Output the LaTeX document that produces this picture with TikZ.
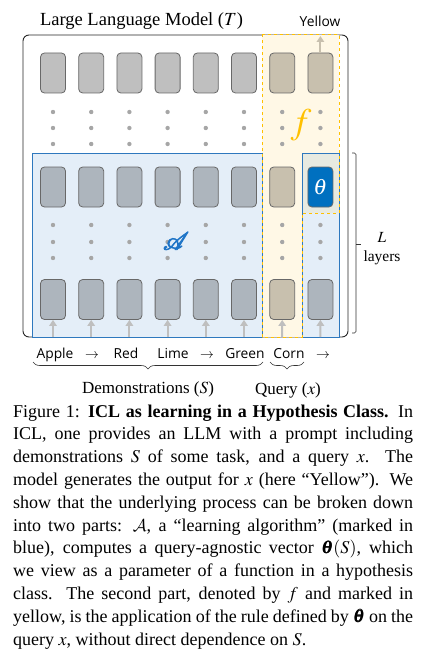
\documentclass[tikz,border=0pt]{standalone}
\usepackage{mathptmx}
\usepackage{mathrsfs}
\usepackage{bm}
\usepackage{fontspec}
\setmainfont{Liberation Serif}
\newfontfamily\wordfont{Open Sans}
\DeclareMathAlphabet{\mathcmcal}{OMS}{cmsy}{m}{n}
\usetikzlibrary{arrows, arrows.meta}
\usetikzlibrary{decorations.pathreplacing}

\definecolor{tokgrey}{HTML}{BFBFBF}
\definecolor{tokblue}{HTML}{ADB5BD}
\definecolor{toktan}{HTML}{C8C0AE}
\definecolor{tokline}{HTML}{686868}
\definecolor{algfill}{HTML}{E4EEF8}
\definecolor{algline}{HTML}{2E78BE}
\definecolor{hypfill}{HTML}{FFF8E6}
\definecolor{hypline}{HTML}{FFC000}
\definecolor{mixfill}{HTML}{E7EAE1}
\definecolor{thetablue}{HTML}{0070C0}
\definecolor{dotgrey}{HTML}{A6A6A6}
\definecolor{feedgrey}{HTML}{BFBFBF}
\definecolor{scriptblue}{HTML}{2075C7}

\newcommand{\heavyglyph}[1]{\special{pdf:code 2 Tr 0.9 w}#1\special{pdf:code 0 Tr}}

\begin{document}
\begin{tikzpicture}[x=1pt, y=-1pt,
    token/.style={draw=tokline, line width=0.8pt, rounded corners=4pt, minimum width=25pt, minimum height=40pt, inner sep=0pt},
    word/.style={font=\wordfont\fontsize{13.8}{16}\selectfont, inner sep=0pt, anchor=base},
    feed/.style={draw=feedgrey, line width=2pt, -{Triangle[width=7.5pt, length=6pt]}},
    brace/.style={decorate, decoration={brace, mirror, amplitude=7pt}, draw=black!80, line width=0.6pt}]

  \useasboundingbox (0,0) rectangle (425,650);

  % model frame and the two parts
  \draw[black!85, line width=0.9pt, rounded corners=6pt] (23,35) rectangle (348,337);
  \fill[algfill] (32,153) rectangle (262,337);
  \fill[algfill] (302,153) rectangle (339,337);
  \fill[hypfill] (262,35) rectangle (302,337);
  \fill[hypfill] (302,35) rectangle (339,153);
  \fill[mixfill] (302,153) rectangle (339,213);
  \draw[algline, line width=1pt] (32,153) rectangle (262,337);
  \draw[algline, line width=1pt] (302,153) rectangle (339,337);
  \draw[hypline, line width=1pt, dashed] (262,35) -- (339,35) -- (339,213) -- (302,213) -- (302,337) -- (262,337) -- cycle;

  % tokens
  \foreach \i in {1,...,6} {
    \node[token, fill=tokgrey] (t\i) at ({53+38.2*(\i-1)},73) {};
    \node[token, fill=tokblue] (m\i) at ({53+38.2*(\i-1)},187) {};
    \node[token, fill=tokblue] (b\i) at ({53+38.2*(\i-1)},299.5) {};
  }
  \node[token, fill=toktan] (t7) at (282.2,73) {};
  \node[token, fill=toktan] (t8) at (320.4,73) {};
  \node[token, fill=toktan] (m7) at (282.2,187) {};
  \node[token, fill=thetablue, text=white, font=\fontsize{22}{22}\selectfont] (m8) at (320.4,187) {$\theta$};
  \node[token, fill=toktan] (b7) at (282.2,299.5) {};
  \node[token, fill=tokblue] (b8) at (320.4,299.5) {};

  \foreach \i in {1,...,8}
    \foreach \y in {112,128,144,225,242,258}
      \fill[dotgrey] ({53+38.2*(\i-1)},\y) circle (2.2pt);

  \foreach \i in {1,...,8} {
    \coordinate (in\i) at ({53+38.2*(\i-1)},337);
    \draw[feed] (in\i) -- (b\i);
  }
  \coordinate (yout) at (320.4,36);
  \draw[feed, draw=toktan] (t8) -- (yout);

  \node[text=hypline, font=\fontsize{36}{36}\selectfont] (fsym) at (301,125) {$f$};
  \node[text=scriptblue, font=\fontsize{28}{28}\selectfont] (Asym) at (176,241) {\heavyglyph{$\mathscr{A}$}};

  % labels
  \node[anchor=base, font=\fontsize{18.5}{20}\selectfont] (title) at (141.5,26) {Large Language Model ($T$)};
  \node[word] (yellow) at (320,27) {Yellow};
  \node[word] (apple) at (55,358) {Apple};
  \node[word] (arr1) at (92,358) {$\rightarrow$};
  \node[word] (red) at (126,358) {Red};
  \node[word] (lime) at (173,358) {Lime};
  \node[word] (arr2) at (207,358) {$\rightarrow$};
  \node[word] (green) at (245,358) {Green};
  \node[word] (corn) at (289,358) {Corn};
  \node[word] (arr3) at (323,358) {$\rightarrow$};

  \coordinate (demoL) at (33,362);
  \coordinate (demoR) at (263,362);
  \draw[brace] (demoL) -- (demoR);
  \node[anchor=base, font=\fontsize{17}{19}\selectfont] (demo) at (148,393) {Demonstrations ($S$)};
  \coordinate (queryL) at (270,362);
  \coordinate (queryR) at (304,362);
  \draw[brace] (queryL) -- (queryR);
  \node[anchor=base, font=\fontsize{17}{19}\selectfont] (query) at (288,394) {Query ($x$)};

  \coordinate (layT) at (352,153);
  \coordinate (layB) at (352,333);
  \draw[black!80, line width=0.6pt, rounded corners=1.5pt] (layT) -- ++(4,0) -- ++(0,180) -- (layB);
  \draw[black!80, line width=0.6pt] (356,244) -- (361,244);
  \node[anchor=base, font=\fontsize{15.5}{17}\selectfont] (L) at (382,242) {$L$};
  \node[anchor=base, font=\fontsize{15.5}{17}\selectfont] (layers) at (382,261) {layers};

  % caption
  \node[anchor=north west, inner sep=0pt, text width=400pt, align=justify, font=\fontsize{18}{22.8}\selectfont] (caption) at (13,404.5) {\tolerance=10000\hyphenpenalty=10000
    Figure 1: \textbf{ICL as learning in a Hypothesis Class.} In\linebreak
    ICL, one provides an LLM with a prompt including\linebreak
    demonstrations $S$ of some task, and a query $x$. The\linebreak
    model generates the output for $x$ (here ``Yellow''). We\linebreak
    show that the underlying process can be broken down\linebreak
    into two parts: $\mathcmcal{A}$, a ``learning algorithm'' (marked in\linebreak
    blue), computes a query-agnostic vector $\bm{\theta}(S)$, which\linebreak
    we view as a parameter of a function in a hypothesis\linebreak
    class. The second part, denoted by $f$ and marked in\linebreak
    yellow, is the application of the rule defined by $\bm{\theta}$ on the\linebreak
    query $x$, without direct dependence on $S$.};
\end{tikzpicture}
\end{document}
